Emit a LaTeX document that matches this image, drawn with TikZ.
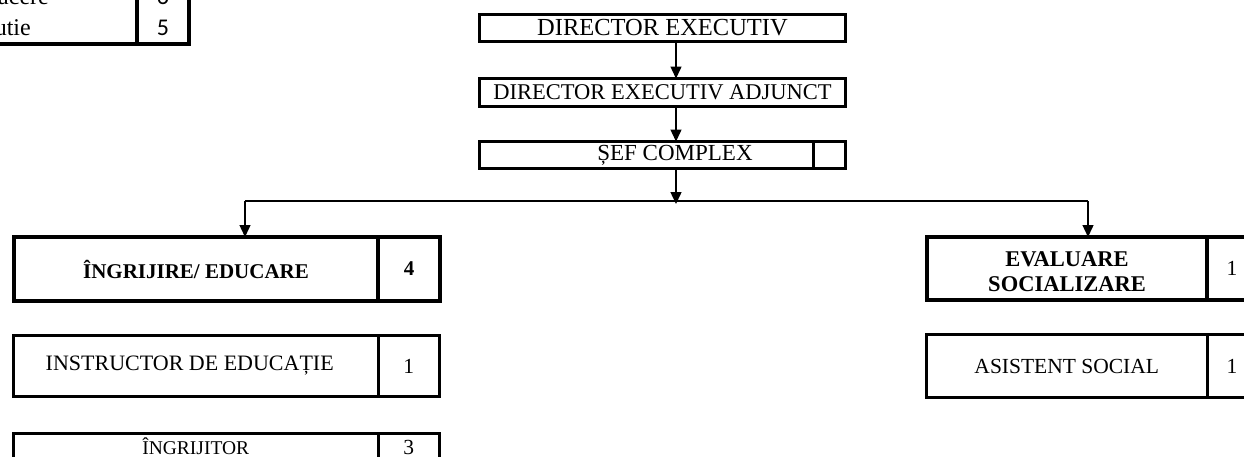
\documentclass[tikz,border=0pt]{standalone}
\usepackage{fontspec}
\setmainfont{Liberation Serif}
\newfontfamily\numfont{Carlito}
\usetikzlibrary{positioning,arrows.meta}

\begin{document}
\begin{tikzpicture}[x=1pt,y=-1pt,
	box/.style={draw,rectangle,line width=3pt,inner sep=0pt,outer sep=0pt,font=\fontsize{21.5}{24}\selectfont},
	boldbox/.style={box,line width=4pt,font=\fontsize{21}{24}\selectfont\bfseries},
	toptext/.style={text height=21pt,text depth=40pt},
	arr/.style={-{Triangle[length=12pt,width=11pt]},line width=1.4pt}]

	\useasboundingbox (0,0) rectangle (1244,456);
	\clip (0,0) rectangle (1244,456);

	% rest of the table at top left
	\draw[line width=4pt] (-10,44) -- (191,44);
	\draw[line width=4pt] (137,-10) -- (137,46);
	\draw[line width=4pt] (189,-10) -- (189,46);
	\node[anchor=base east,inner sep=0pt,font=\fontsize{24}{26}\selectfont] (row1) at (49,4) {acere};
	\node[anchor=base east,inner sep=0pt,font=\fontsize{24}{26}\selectfont] (row2) at (31,35) {utie};
	\node[anchor=base,inner sep=0pt,font=\numfont\fontsize{24}{26}\selectfont] (row1nr) at (163,4) {6};
	\node[anchor=base,inner sep=0pt,font=\numfont\fontsize{24}{26}\selectfont] (row2nr) at (163,35) {5};

	% management
	\node[box,minimum width=366pt,minimum height=27pt,font=\fontsize{24.5}{27}\selectfont] (de) at (662.5,28) {DIRECTOR EXECUTIV};
	\node[box,minimum width=366pt,minimum height=28pt,font=\fontsize{22.5}{25}\selectfont] (dea) at (662.5,92.5) {DIRECTOR EXECUTIV ADJUNCT};
	\node[box,minimum width=366pt,minimum height=27pt,font=\fontsize{23}{25}\selectfont] (sef) at (662.5,155) {\hspace*{25pt}ȘEF COMPLEX};
	\node[box,minimum width=32.5pt,minimum height=27pt,anchor=east] (sefnr) at (sef.east) {};

	% compartments
	\node[boldbox,minimum width=364pt,minimum height=64pt] (ingr) at (196,269) {ÎNGRIJIRE/ EDUCARE};
	\node[boldbox,minimum width=62pt,minimum height=64pt,right=0pt of ingr] (ingrnr) {4};
	\node[box,minimum width=364.5pt,minimum height=61pt,font=\fontsize{22}{24}\selectfont] (instr) at (195.75,366) {INSTRUCTOR DE EDUCAȚIE\hspace*{12pt}};
	\node[box,minimum width=61.5pt,minimum height=61pt,right=0pt of instr] (instrnr) {1};
	\node[box,toptext,minimum width=364.5pt,minimum height=61pt,below=37pt of instr,font=\fontsize{19.5}{22}\selectfont] (ingrj) {ÎNGRIJITOR};
	\node[box,toptext,minimum width=61.5pt,minimum height=61pt,right=0pt of ingrj] (ingrjnr) {3};

	\node[boldbox,align=center,minimum width=280pt,minimum height=63pt,font=\fontsize{22.5}{25}\selectfont\bfseries] (eval) at (1067,268.5) {\\[-3pt]EVALUARE\\SOCIALIZARE};
	\node[boldbox,minimum width=50pt,minimum height=63pt,right=0pt of eval,font=\fontsize{21.5}{24}\selectfont] (evalnr) {1};
	\node[box,minimum width=280.5pt,minimum height=63pt] (asist) at (1066.75,366) {ASISTENT SOCIAL};
	\node[box,minimum width=50pt,minimum height=63pt,right=0pt of asist] (asistnr) {1};

	% connectors
	\coordinate (ax) at (676,0);
	\coordinate (split) at (676,201);
	\coordinate (bl) at (245,201);
	\coordinate (br) at (1088,201);
	\draw[arr] (de.south -| ax) -- (dea.north -| ax);
	\draw[arr] (dea.south -| ax) -- (sef.north -| ax);
	\draw[arr] (sef.south -| ax) -- ([yshift=-3pt]split);
	\draw[line width=1.2pt] (bl) -- (br);
	\draw[arr] (bl) -- (ingr.north -| bl);
	\draw[arr] (br) -- (eval.north -| br);
\end{tikzpicture}
\end{document}
